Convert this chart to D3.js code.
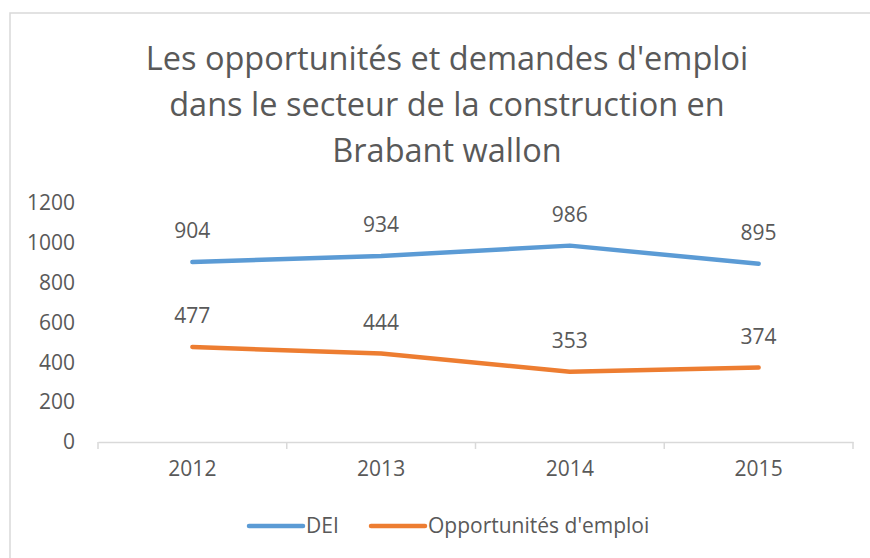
<!DOCTYPE html>
<html>
<head>
<meta charset="utf-8">
<script src="https://cdn.jsdelivr.net/npm/d3@7"></script>
<style>
  body { margin: 0; background: #fff; }
  text { font-family: "Open Sans", sans-serif; fill: #595959; }
</style>
</head>
<body>
<div id="chart"></div>
<script>
// data
var years = ["2012", "2013", "2014", "2015"];
var dei = [904, 934, 986, 895];
var opportunites = [477, 444, 353, 374];
var seriesNames = ["DEI", "Opportunités d'emploi"];
var colors = ["#5B9BD5", "#ED7D31"];
var yTicks = [0, 200, 400, 600, 800, 1000, 1200];
var titleLines = ["Les opportunités et demandes d'emploi", "dans le secteur de la construction en", "Brabant wallon"];

var W = 870, H = 558;
var margin = {top: 203, right: 17, bottom: 116, left: 98},
    width = W - margin.left - margin.right,
    height = H - margin.top - margin.bottom;
var fs = 21;

var svg = d3.select("#chart")
  .append("svg")
    .attr("width", W)
    .attr("height", H);

// chart border
svg.append("rect")
  .attr("x", 10).attr("y", 13)
  .attr("width", W).attr("height", H)
  .attr("fill", "none")
  .attr("stroke", "#D9D9D9")
  .attr("stroke-width", 1.5);

// title
svg.append("text")
  .attr("text-anchor", "middle")
  .attr("font-size", 32.5)
  .selectAll("tspan")
  .data(titleLines)
  .enter().append("tspan")
    .attr("x", 447)
    .attr("y", function(d, i) { return 70 + i * 46; })
    .text(function(d) { return d; });

var g = svg.append("g")
  .attr("transform", "translate(" + margin.left + "," + margin.top + ")");

var x = d3.scaleBand()
  .domain(years)
  .range([0, width]);

var y = d3.scaleLinear()
  .domain([0, 1200])
  .range([height, 0]);

// y axis labels only
var yAxis = g.append("g")
  .call(d3.axisLeft(y).tickValues(yTicks).tickFormat(d3.format("d")).tickSize(0).tickPadding(23));
yAxis.select(".domain").remove();
yAxis.selectAll("text")
  .attr("font-size", fs)
  .attr("font-family", "'Open Sans', sans-serif")
  .attr("fill", "#595959");

// x axis
var xAxis = g.append("g")
  .attr("transform", "translate(0," + height + ")")
  .call(d3.axisBottom(x).tickSize(0).tickPadding(19));
xAxis.select(".domain")
  .attr("stroke", "#D9D9D9").attr("stroke-width", 1.5);
xAxis.selectAll("text")
  .attr("font-size", fs)
  .attr("font-family", "'Open Sans', sans-serif")
  .attr("fill", "#595959");

// tick marks on band edges
var edges = years.map(function(d) { return x(d); }).concat([width]);
xAxis.selectAll(".edge")
  .data(edges)
  .enter().append("line")
    .attr("class", "edge")
    .attr("x1", function(d) { return d; })
    .attr("x2", function(d) { return d; })
    .attr("y1", 0).attr("y2", 7)
    .attr("stroke", "#D9D9D9").attr("stroke-width", 1.5);

var series = [dei, opportunites];

var line = d3.line()
  .x(function(d, i) { return x(years[i]) + x.bandwidth() / 2; })
  .y(function(d) { return y(d); });

series.forEach(function(s, k) {
  g.append("path")
    .datum(s)
    .attr("d", line)
    .attr("fill", "none")
    .attr("stroke", colors[k])
    .attr("stroke-width", 4.5)
    .attr("stroke-linecap", "round")
    .attr("stroke-linejoin", "round");

  g.selectAll(".lbl" + k)
    .data(s)
    .enter().append("text")
      .attr("class", "lbl" + k)
      .attr("text-anchor", "middle")
      .attr("font-size", fs)
      .attr("x", function(d, i) { return x(years[i]) + x.bandwidth() / 2; })
      .attr("y", function(d) { return y(d) - 24; })
      .text(function(d) { return d; });
});

// legend
var legendItems = [{x: 249, tx: 306}, {x: 371, tx: 428}];
legendItems.forEach(function(p, k) {
  svg.append("line")
    .attr("x1", p.x).attr("x2", p.x + 54)
    .attr("y1", 526).attr("y2", 526)
    .attr("stroke", colors[k])
    .attr("stroke-width", 4.5)
    .attr("stroke-linecap", "round");
  svg.append("text")
    .attr("x", p.tx).attr("y", 533)
    .attr("font-size", fs)
    .text(seriesNames[k]);
});
</script>
</body>
</html>
